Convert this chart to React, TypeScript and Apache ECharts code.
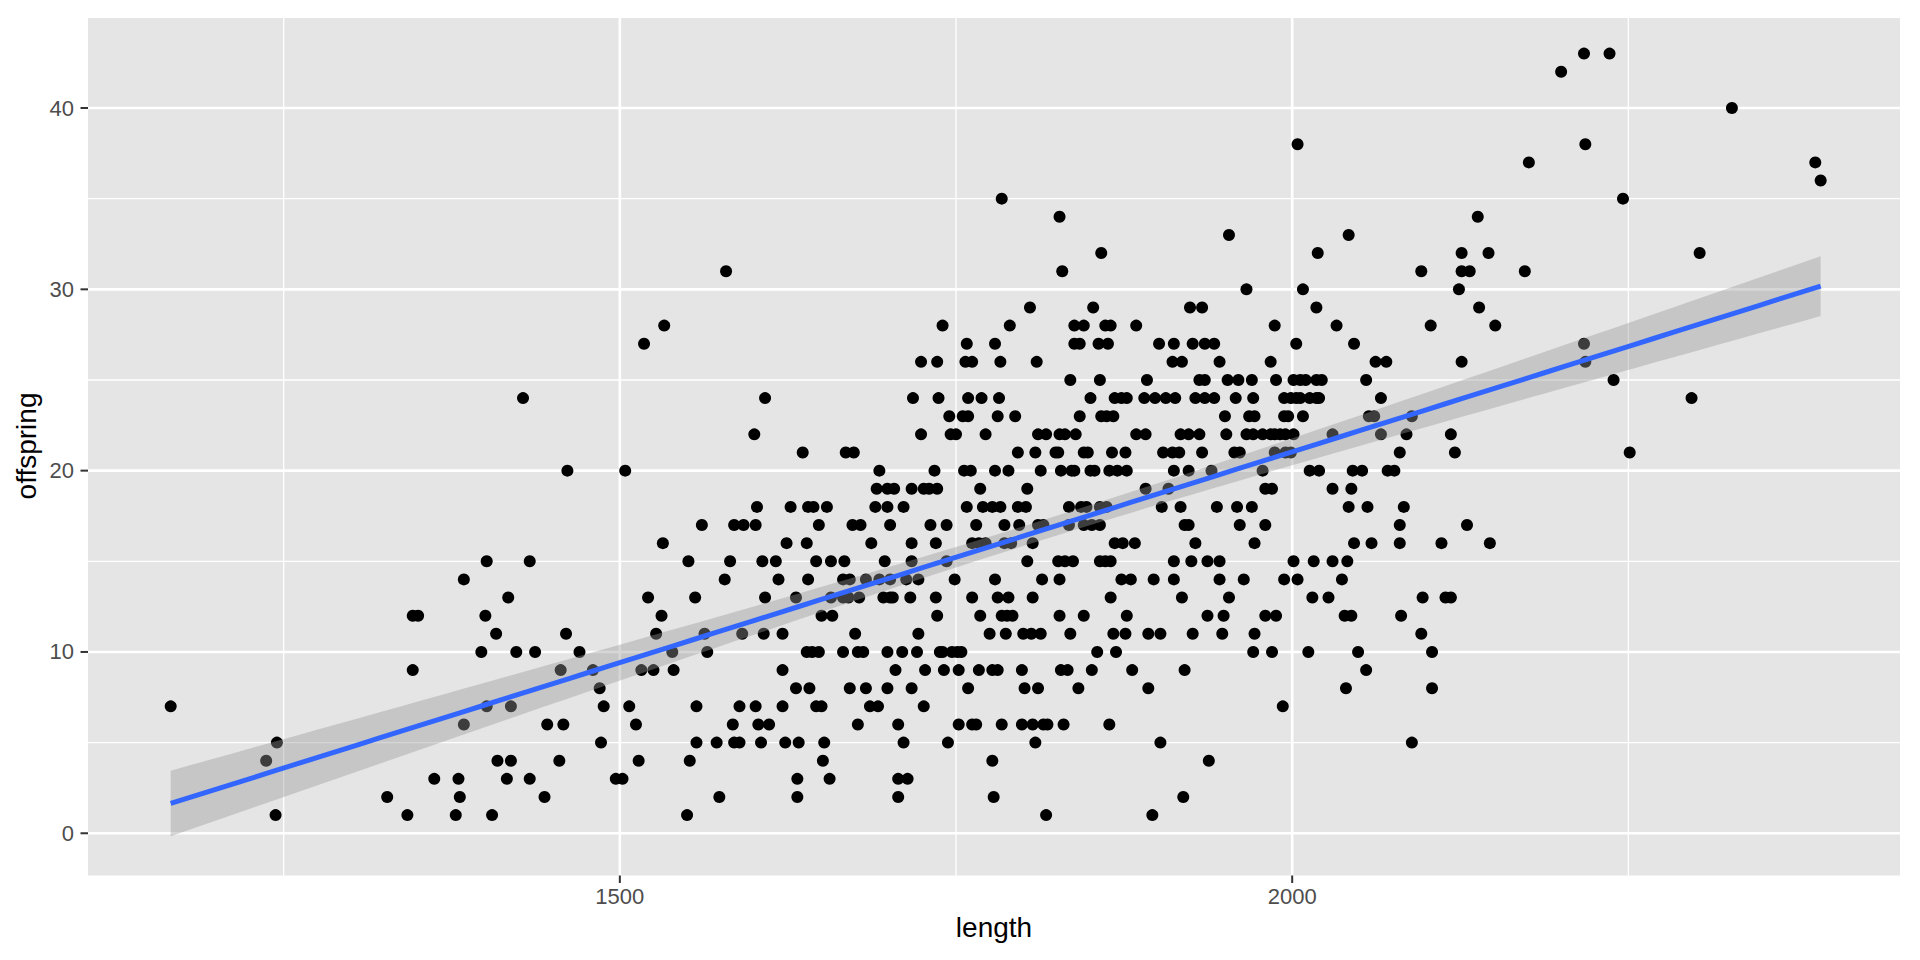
import React, { useEffect, useRef } from "react";
import * as echarts from "echarts";

// ---- Data ----
const offspringLevels = [
  1, 2, 3, 4, 5, 6, 7, 8, 9, 10, 11, 12, 13, 14, 15, 16, 17, 18, 19, 20, 21, 22,
  23, 24, 25, 26, 27, 28, 29, 30, 31, 32, 33, 34, 35, 36, 37, 38, 40, 42, 43,
];

const lengthsPerLevel = [
  [1244, 1342, 1378, 1405, 1550, 1817, 1896],
  [1327, 1381, 1444, 1574, 1632, 1707, 1778, 1919],
  [1362, 1380, 1416, 1433, 1497, 1502, 1632, 1656, 1707, 1714],
  [1237, 1409, 1419, 1455, 1514, 1552, 1651, 1777, 1938],
  [1245, 1486, 1557, 1572, 1585, 1589, 1605, 1623, 1633, 1652, 1711, 1744, 1809, 1902, 2089],
  [1384, 1446, 1458, 1512, 1584, 1603, 1611, 1677, 1707, 1752, 1762, 1765, 1784, 1799, 1807, 1815, 1818, 1830, 1864],
  [1166, 1401, 1419, 1488, 1507, 1557, 1589, 1601, 1621, 1646, 1650, 1686, 1692, 1726, 1993],
  [1485, 1631, 1641, 1671, 1683, 1699, 1717, 1759, 1801, 1811, 1841, 1893, 2040, 2104],
  [1346, 1456, 1480, 1516, 1525, 1540, 1621, 1705, 1727, 1741, 1752, 1767, 1777, 1781, 1799, 1828, 1833, 1851, 1881, 1920, 2055],
  [1397, 1423, 1437, 1470, 1539, 1565, 1639, 1643, 1648, 1666, 1677, 1681, 1699, 1710, 1721, 1738, 1740, 1747, 1751, 1754, 1855, 1869, 1971, 1985, 2012, 2049, 2104],
  [1408, 1460, 1527, 1563, 1591, 1607, 1621, 1675, 1722, 1775, 1787, 1800, 1806, 1813, 1835, 1867, 1876, 1893, 1902, 1926, 1948, 1972, 2096],
  [1346, 1350, 1400, 1531, 1650, 1658, 1736, 1768, 1784, 1788, 1792, 1827, 1845, 1877, 1937, 1949, 1980, 1988, 2039, 2044, 2081],
  [1417, 1521, 1556, 1608, 1631, 1657, 1666, 1670, 1678, 1696, 1701, 1703, 1716, 1735, 1762, 1781, 1789, 1807, 1865, 1918, 1953, 2015, 2027, 2097, 2114, 2118],
  [1384, 1578, 1618, 1640, 1666, 1671, 1683, 1693, 1701, 1713, 1722, 1749, 1779, 1814, 1827, 1873, 1880, 1897, 1912, 1946, 1964, 1994, 2004, 2037],
  [1401, 1433, 1551, 1582, 1606, 1616, 1646, 1657, 1667, 1697, 1717, 1743, 1803, 1826, 1831, 1837, 1857, 1861, 1865, 1912, 1925, 1937, 1946, 2001, 2016, 2030, 2041],
  [1532, 1624, 1639, 1687, 1717, 1735, 1762, 1767, 1772, 1786, 1791, 1807, 1868, 1874, 1883, 1928, 1972, 2046, 2059, 2080, 2111, 2147],
  [1561, 1585, 1592, 1601, 1648, 1673, 1679, 1701, 1731, 1743, 1765, 1786, 1797, 1811, 1815, 1834, 1845, 1851, 1857, 1920, 1923, 1961, 1980, 2080, 2130],
  [1602, 1627, 1640, 1644, 1654, 1690, 1699, 1711, 1758, 1770, 1777, 1783, 1796, 1802, 1834, 1843, 1847, 1857, 1862, 1903, 1917, 1944, 1959, 1970, 2042, 2056, 2083],
  [1691, 1699, 1704, 1717, 1726, 1730, 1736, 1768, 1803, 1891, 1908, 1980, 1985, 2030, 2044],
  [1461, 1504, 1693, 1734, 1756, 1761, 1779, 1789, 1813, 1828, 1836, 1838, 1850, 1853, 1864, 1870, 1877, 1912, 1923, 1940, 1978, 2013, 2020, 2045, 2052, 2071, 2076],
  [1636, 1668, 1674, 1796, 1809, 1824, 1826, 1845, 1848, 1866, 1876, 1904, 1911, 1916, 1933, 1957, 1961, 1987, 1995, 1999, 2080, 2121, 2251],
  [1600, 1724, 1746, 1750, 1772, 1811, 1817, 1827, 1831, 1839, 1884, 1891, 1917, 1923, 1931, 1951, 1966, 1971, 1978, 1984, 1987, 1991, 1995, 2001, 2030, 2066, 2085, 2118],
  [1745, 1755, 1759, 1781, 1794, 1842, 1858, 1862, 1867, 1950, 1968, 1972, 1994, 1997, 2008, 2057, 2061, 2089],
  [1428, 1608, 1718, 1737, 1759, 1769, 1782, 1850, 1868, 1873, 1877, 1890, 1898, 1906, 1913, 1928, 1935, 1942, 1958, 1971, 1994, 1999, 2003, 2006, 2013, 2018, 2020, 2066, 2297],
  [1835, 1857, 1892, 1931, 1935, 1952, 1960, 1970, 1988, 2001, 2006, 2010, 2018, 2022, 2055, 2239],
  [1724, 1736, 1757, 1762, 1783, 1810, 1911, 1918, 1946, 1984, 2062, 2070, 2126, 2218],
  [1518, 1758, 1779, 1838, 1842, 1856, 1863, 1901, 1912, 1926, 1935, 1942, 2003, 2046, 2217],
  [1533, 1740, 1790, 1838, 1845, 1861, 1865, 1884, 1987, 2033, 2103, 2151],
  [1805, 1852, 1924, 1933, 2018, 2139],
  [1966, 2008, 2124],
  [1579, 1829, 2096, 2126, 2132, 2173],
  [1858, 2019, 2126, 2146, 2303],
  [1953, 2042],
  [1827, 2138],
  [1784, 2246],
  [2393],
  [2176, 2389],
  [2004, 2218],
  [2327],
  [2200],
  [2217, 2236],
];

const xTickValues = [1500, 2000];
const xMinorBreaks = [1250, 1750, 2250];
const yTickValues = [0, 10, 20, 30, 40];
const yMinorBreaks = [5, 15, 25, 35, 45];

const X_MIN = 1104.5;
const X_MAX = 2452;
const Y_MIN = -2.33;
const Y_MAX = 45.02;

const FONT = "'Liberation Sans', Arial, Helvetica, sans-serif";

// ---- Derived: points and linear fit with 95% CI (like geom_smooth(method = "lm")) ----
const points: number[][] = [];
offspringLevels.forEach((y, i) => {
  lengthsPerLevel[i].forEach((x) => points.push([x, y]));
});

function linearFit(pts: number[][]) {
  const n = pts.length;
  let sx = 0, sy = 0;
  pts.forEach(([x, y]) => { sx += x; sy += y; });
  const xbar = sx / n, ybar = sy / n;
  let sxx = 0, sxy = 0;
  pts.forEach(([x, y]) => { sxx += (x - xbar) ** 2; sxy += (x - xbar) * (y - ybar); });
  const b = sxy / sxx;
  const a = ybar - b * xbar;
  let sse = 0;
  pts.forEach(([x, y]) => { sse += (y - (a + b * x)) ** 2; });
  const s = Math.sqrt(sse / (n - 2));
  const t = 1.965;
  let minX = Infinity, maxX = -Infinity;
  pts.forEach(([x]) => { minX = Math.min(minX, x); maxX = Math.max(maxX, x); });
  const line: number[][] = [];
  const upper: number[][] = [];
  const lower: number[][] = [];
  const m = 80;
  for (let k = 0; k < m; k++) {
    const x = minX + ((maxX - minX) * k) / (m - 1);
    const yh = a + b * x;
    const se = s * Math.sqrt(1 / n + (x - xbar) ** 2 / sxx);
    line.push([x, yh]);
    upper.push([x, yh + t * se]);
    lower.push([x, yh - t * se]);
  }
  return { line, upper, lower };
}

const fit = linearFit(points);

export default function App() {
  const ref = useRef<HTMLDivElement>(null);

  useEffect(() => {
    if (!ref.current) return;
    const chart = echarts.init(ref.current, undefined, { renderer: "svg" });

    const option: any = {
      animation: false,
      backgroundColor: "#FFFFFF",
      grid: {
        left: 88,
        right: 20,
        top: 17,
        bottom: 84.5,
        show: true,
        backgroundColor: "#E5E5E5",
        borderWidth: 0,
      },
      xAxis: { type: "value", min: X_MIN, max: X_MAX, show: false },
      yAxis: { type: "value", min: Y_MIN, max: Y_MAX, show: false },
      graphic: [
        {
          type: "text",
          x: 994,
          y: 927,
          style: {
            text: "length",
            fill: "#000000",
            fontSize: 28,
            fontFamily: FONT,
            align: "center",
            verticalAlign: "middle",
          },
        },
        {
          type: "text",
          x: 26,
          y: 446,
          rotation: Math.PI / 2,
          style: {
            text: "offspring",
            fill: "#000000",
            fontSize: 28,
            fontFamily: FONT,
            align: "center",
            verticalAlign: "middle",
          },
        },
      ],
      series: [
        {
          type: "custom",
          z: 1,
          silent: true,
          clip: false,
          data: [[1500, 20]],
          renderItem: (_params: any, api: any) => {
            const children: any[] = [];
            const [left, bottom] = api.coord([X_MIN, Y_MIN]);
            const [right, top] = api.coord([X_MAX, Y_MAX]);
            xMinorBreaks.forEach((v) => {
              const x = api.coord([v, Y_MIN])[0];
              children.push({ type: "line", shape: { x1: x, y1: top, x2: x, y2: bottom }, style: { stroke: "#FFFFFF", lineWidth: 1.3 } });
            });
            yMinorBreaks.forEach((v) => {
              const y = api.coord([X_MIN, v])[1];
              children.push({ type: "line", shape: { x1: left, y1: y, x2: right, y2: y }, style: { stroke: "#FFFFFF", lineWidth: 1.3 } });
            });
            xTickValues.forEach((v) => {
              const x = api.coord([v, Y_MIN])[0];
              children.push({ type: "line", shape: { x1: x, y1: top, x2: x, y2: bottom }, style: { stroke: "#FFFFFF", lineWidth: 2.6 } });
              children.push({ type: "line", shape: { x1: x, y1: bottom, x2: x, y2: bottom + 7.5 }, style: { stroke: "#333333", lineWidth: 2 } });
              children.push({
                type: "text",
                x,
                y: bottom + 21,
                style: { text: String(v), fill: "#4D4D4D", fontSize: 22, fontFamily: FONT, align: "center", verticalAlign: "middle" },
              });
            });
            yTickValues.forEach((v) => {
              const y = api.coord([X_MIN, v])[1];
              children.push({ type: "line", shape: { x1: left, y1: y, x2: right, y2: y }, style: { stroke: "#FFFFFF", lineWidth: 2.6 } });
              children.push({ type: "line", shape: { x1: left - 7.5, y1: y, x2: left, y2: y }, style: { stroke: "#333333", lineWidth: 2 } });
              children.push({
                type: "text",
                x: left - 14,
                y,
                style: { text: String(v), fill: "#4D4D4D", fontSize: 22, fontFamily: FONT, align: "right", verticalAlign: "middle" },
              });
            });
            return { type: "group", children };
          },
        },
        {
          type: "scatter",
          z: 2,
          silent: true,
          symbol: "circle",
          symbolSize: 12,
          itemStyle: { color: "#000000", opacity: 1 },
          data: points,
        },
        {
          type: "custom",
          z: 3,
          silent: true,
          data: [[1500, 20]],
          renderItem: (_params: any, api: any) => {
            const pts: number[][] = [];
            fit.upper.forEach((p) => pts.push(api.coord(p)));
            for (let k = fit.lower.length - 1; k >= 0; k--) pts.push(api.coord(fit.lower[k]));
            return {
              type: "polygon",
              shape: { points: pts },
              style: { fill: "rgba(153,153,153,0.4)", stroke: "none" },
            };
          },
        },
        {
          type: "line",
          z: 4,
          silent: true,
          showSymbol: false,
          symbol: "none",
          lineStyle: { color: "#3366FF", width: 5 },
          data: fit.line,
        },
      ],
    };

    chart.setOption(option);
    return () => chart.dispose();
  }, []);

  return (
    <div
      ref={ref}
      style={{ position: "fixed", left: 0, top: 0, width: 1920, height: 960, background: "#FFFFFF" }}
    />
  );
}
